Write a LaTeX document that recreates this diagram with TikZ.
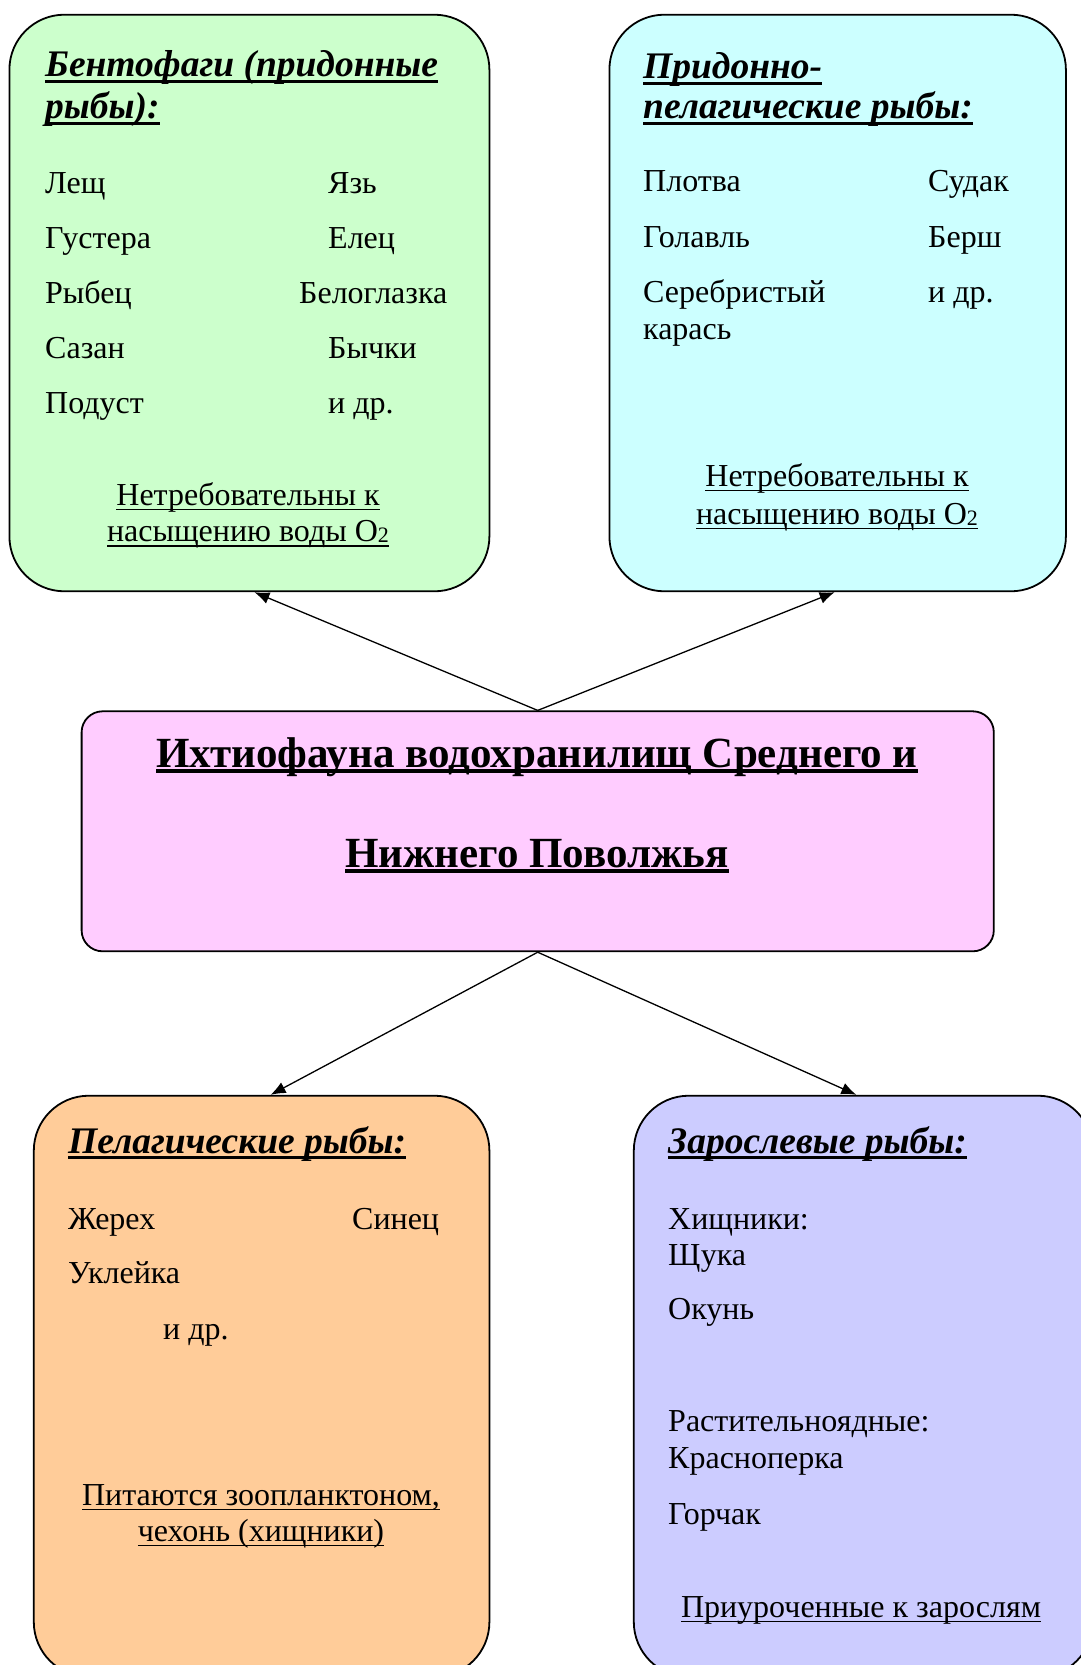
\documentclass[tikz,border=0pt]{standalone}
\usepackage{fontspec}
\setmainfont{Liberation Serif}
\usetikzlibrary{arrows.meta,calc}

\definecolor{benthC}{HTML}{CCFFCC}
\definecolor{pelbotC}{HTML}{CCFFFF}
\definecolor{mainC}{HTML}{FFCCFF}
\definecolor{pelC}{HTML}{FFCC99}
\definecolor{weedC}{HTML}{CCCCFF}

% underline set close to the baseline: [thickness]{depth}{text}
\newcommand\ulx[3][0.06em]{\setbox0=\hbox{#3}\leavevmode\rlap{\rule[-#2]{\wd0}{#1}}\box0}
\newcommand\Otwo{O\raisebox{-0.04em}{\fontsize{22}{22}\selectfont 2}}

\begin{document}
\begin{tikzpicture}[x=1pt,y=-1pt,
  box/.style={draw=black, line width=1.8pt, rounded corners=55pt, inner sep=0pt, anchor=north west},
  txt/.style={anchor=base west, inner sep=0pt, font=\fontsize{32}{38}\selectfont},
  note/.style={anchor=base, inner sep=0pt, font=\fontsize{32}{38}\selectfont},
  head/.style={anchor=base west, inner sep=0pt, font=\fontsize{37.5}{44}\selectfont\bfseries\itshape},
  ttl/.style={anchor=base, inner sep=0pt, font=\fontsize{43}{50}\selectfont\bfseries},
  arr/.style={line width=1.3pt, -{Latex[length=15pt,width=12pt]}}]

\clip (0,0) rectangle (1081,1665);
\useasboundingbox (0,0) rectangle (1081,1665);

% boxes
\node[box, fill=benthC, minimum width=480pt, minimum height=576.6pt] (green) at (8.5,13.8) {};
\node[box, fill=pelbotC, minimum width=456.5pt, minimum height=576.6pt] (cyan) at (608.5,13.8) {};
\node[box, fill=mainC, rounded corners=21pt, minimum width=912.2pt, minimum height=240pt] (pink) at (80.7,710.4) {};
\node[box, fill=pelC, minimum width=455.6pt, minimum height=581.2pt] (orange) at (32.9,1094.8) {};
\node[box, fill=weedC, minimum width=459.1pt, minimum height=581.2pt] (purple) at (632.9,1094.8) {};

% connectors
\draw[arr] (pink.north) -- ([xshift=5]green.south);
\draw[arr] (pink.north) -- ([xshift=-3]cyan.south);
\draw[arr] (pink.south) -- ([xshift=9]orange.north);
\draw[arr] (pink.south) -- ([xshift=-7]purple.north);

% bottom-feeders
\node[head] (gh1) at (45,76.5) {\ulx[0.08em]{0.17em}{Бентофаги (придонные}};
\node[head] (gh2) at (45,118.6) {\ulx[0.08em]{0.17em}{рыбы):}};
\node[txt] (g1) at (45,193) {Лещ};
\node[txt] (g2) at (45,248) {Густера};
\node[txt] (g3) at (45,303) {Рыбец};
\node[txt] (g4) at (45,358) {Сазан};
\node[txt] (g5) at (45,413) {Подуст};
\node[txt] (g6) at (328,193) {Язь};
\node[txt] (g7) at (328,248) {Елец};
\node[txt] (g8) at (299,303) {Белоглазка};
\node[txt] (g9) at (328,358) {Бычки};
\node[txt] (g10) at (328,413) {и др.};
\node[note] (gn1) at (248,505) {\ulx{0.17em}{Нетребовательны к}};
\node[note] (gn2) at (248,541.5) {\ulx{0.17em}{насыщению воды \Otwo}};

% bottom-pelagic
\node[head] (ch1) at (643,78.5) {\ulx[0.08em]{0.17em}{Придонно-}};
\node[head] (ch2) at (643,118.6) {\ulx[0.08em]{0.17em}{пелагические рыбы:}};
\node[txt] (c1) at (643,191) {Плотва};
\node[txt] (c2) at (643,247) {Голавль};
\node[txt] (c3) at (643,302) {Серебристый};
\node[txt] (c4) at (643,339) {карась};
\node[txt] (c5) at (928,191) {Судак};
\node[txt] (c6) at (928,247) {Берш};
\node[txt] (c7) at (928,302) {и др.};
\node[note] (cn1) at (837,486) {\ulx{0.17em}{Нетребовательны к}};
\node[note] (cn2) at (837,524) {\ulx{0.17em}{насыщению воды \Otwo}};

% title
\node[ttl] (t1) at (537,767) {\ulx[0.1em]{0.15em}{Ихтиофауна водохранилищ Среднего и}};
\node[ttl] (t2) at (537,867) {\ulx[0.1em]{0.15em}{Нижнего Поволжья}};

% pelagic
\node[head] (oh) at (68,1153) {\ulx[0.08em]{0.17em}{Пелагические рыбы:}};
\node[txt] (o1) at (68,1229) {Жерех};
\node[txt] (o2) at (352,1229) {Синец};
\node[txt] (o3) at (68,1283) {Уклейка};
\node[txt] (o4) at (163,1339) {и др.};
\node[note] (on1) at (261,1505) {\ulx{0.17em}{Питаются зоопланктоном,}};
\node[note] (on2) at (261,1541) {\ulx{0.17em}{чехонь (хищники)}};

% weed fishes
\node[head] (ph) at (668,1153) {\ulx[0.08em]{0.17em}{Зарослевые рыбы:}};
\node[txt] (p1) at (668,1229) {Хищники:};
\node[txt] (p2) at (668,1265) {Щука};
\node[txt] (p3) at (668,1319) {Окунь};
\node[txt] (p4) at (668,1431) {Растительноядные:};
\node[txt] (p5) at (668,1468) {Красноперка};
\node[txt] (p6) at (668,1524) {Горчак};
\node[note] (pn) at (861,1617) {\ulx{0.17em}{Приуроченные к зарослям}};
\end{tikzpicture}
\end{document}
